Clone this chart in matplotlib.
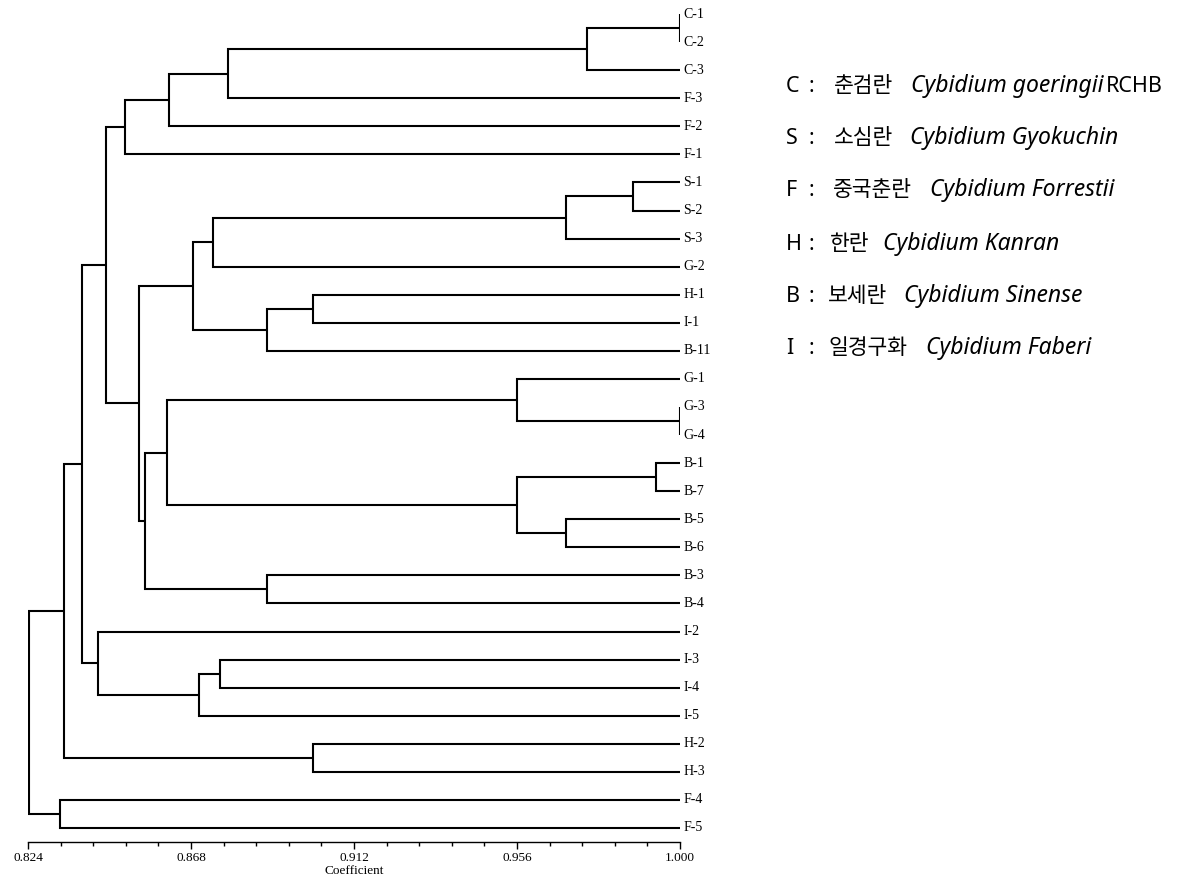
import matplotlib
matplotlib.use("Agg")
import matplotlib.pyplot as plt
from matplotlib.ticker import FixedLocator, FormatStrFormatter
import numpy as np

# ---------------- data ----------------
leaves = ["C-1", "C-2", "C-3", "F-3", "F-2", "F-1", "S-1", "S-2", "S-3", "G-2",
          "H-1", "I-1", "B-11", "G-1", "G-3", "G-4", "B-1", "B-7", "B-5", "B-6",
          "B-3", "B-4", "I-2", "I-3", "I-4", "I-5", "H-2", "H-3", "F-4", "F-5"]

# merges: (name, left child, right child, coefficient)
merge_names = ["nC12", "nC", "nCF3", "nCF2", "nCF1",
               "nS12", "nS", "nSG2", "nHI", "nHIB", "nSH",
               "nG34", "nG", "nB17", "nB56", "nB", "nGB", "nB34", "nGBB",
               "nSHGB", "nCSG", "nI34", "nI345", "nI", "nCI", "nH", "nCIH",
               "nF45", "root"]
merge_left = ["C-1", "nC12", "nC", "nCF3", "nCF2",
              "S-1", "nS12", "nS", "H-1", "nHI", "nSG2",
              "G-3", "G-1", "B-1", "B-5", "nB17", "nG", "B-3", "nGB",
              "nSH", "nCF1", "I-3", "nI34", "I-2", "nCSG", "H-2", "nCI",
              "F-4", "nCIH"]
merge_right = ["C-2", "C-3", "F-3", "F-2", "F-1",
               "S-2", "S-3", "G-2", "I-1", "B-11", "nHIB",
               "G-4", "nG34", "B-7", "B-6", "nB56", "nB", "B-4", "nB34",
               "nGBB", "nSHGB", "I-4", "I-5", "nI345", "nI", "H-3", "nH",
               "F-5", "nF45"]
merge_coef = [1.000, 0.9749, 0.878, 0.8621, 0.8502,
              0.9874, 0.9692, 0.8739, 0.9010, 0.8885, 0.8685,
              1.000, 0.956, 0.9935, 0.9692, 0.956, 0.8615, 0.8885, 0.8556,
              0.8540, 0.8451, 0.8758, 0.8702, 0.8430, 0.8385, 0.9010, 0.8338,
              0.8326, 0.8243]

major_ticks = [0.824, 0.868, 0.912, 0.956, 1.000]
x_label = "Coefficient"

legend_codes = ["C", "S", "F", "H", "B", "I"]
legend_korean = ["춘검란", "소심란", "중국춘란", "한란", "보세란", "일경구화"]
legend_latin = ["Cybidium goeringii", "Cybidium Gyokuchin", "Cybidium Forrestii",
                "Cybidium Kanran", "Cybidium Sinense", "Cybidium Faberi"]
legend_suffix = ["RCHB", "", "", "", "", ""]

# ---------------- figure ----------------
W, H = 1182, 890
fig = plt.figure(figsize=(W / 100, H / 100), dpi=100)
ax = fig.add_axes([28 / W, (H - 842) / H, 652 / W, 842 / H])
ax.set_xlim(0.824, 1.000)
ax.set_ylim(len(leaves) - 0.5, -0.5)

pos = {}
for i, name in enumerate(leaves):
    pos[name] = (1.000, float(i))

lw = 1.5
for name, a, b, c in zip(merge_names, merge_left, merge_right, merge_coef):
    xa, ya = pos[a]
    xb, yb = pos[b]
    ax.plot([xa, c, c, xb], [ya, ya, yb, yb], color="black", lw=lw,
            solid_joinstyle="miter", solid_capstyle="butt")
    pos[name] = (c, (ya + yb) / 2)

for i, name in enumerate(leaves):
    ax.annotate(name, (1.000, i), xytext=(2.5, 0), textcoords="offset points",
                va="center", ha="left", fontsize=10, family="Liberation Serif",
                annotation_clip=False)

for s in ["left", "right", "top"]:
    ax.spines[s].set_visible(False)
ax.spines["bottom"].set_linewidth(1.0)
ax.set_yticks([])
ax.xaxis.set_major_locator(FixedLocator(major_ticks))
ax.xaxis.set_minor_locator(FixedLocator(list(np.arange(0.824, 1.0001, 0.0088))))
ax.xaxis.set_major_formatter(FormatStrFormatter("%.3f"))
ax.tick_params(axis="x", which="major", direction="out", length=5, width=1.0,
               labelsize=9.5, pad=2)
ax.tick_params(axis="x", which="minor", direction="out", length=3, width=1.0)
for t in ax.get_xticklabels():
    t.set_family("Liberation Serif")
ax.set_xlabel(x_label, fontsize=9.5, family="Liberation Serif", labelpad=1)

# ---------------- legend text ----------------
row_y = [85, 138, 190, 243, 295, 347]
kor_x = [834, 834, 833, 830, 828, 828]
lat_x = [911, 910, 930, 883, 904, 926]
fs = 15.5
fs_it = 16.5
fig.canvas.draw()
renderer = fig.canvas.get_renderer()
for code, kor, lat, suf, y, kx, lx in zip(legend_codes, legend_korean, legend_latin,
                                          legend_suffix, row_y, kor_x, lat_x):
    yf = 1 - (y + 6.5) / H
    fig.text(786 / W, yf, code, fontsize=fs, family="Noto Sans", va="baseline")
    fig.text(809 / W, yf, ":", fontsize=fs, family="Noto Sans", va="baseline")
    fig.text(kx / W, yf, kor, fontsize=fs, family="Noto Sans CJK KR", va="baseline")
    ti = fig.text(lx / W, yf, lat, fontsize=fs_it, family="Noto Sans",
                  style="italic", va="baseline")
    if suf:
        bb2 = ti.get_window_extent(renderer)
        fig.text((bb2.x1 + 2) / W, yf, suf, fontsize=fs, family="Noto Sans", va="baseline")

fig.savefig("out.png", dpi=100)
